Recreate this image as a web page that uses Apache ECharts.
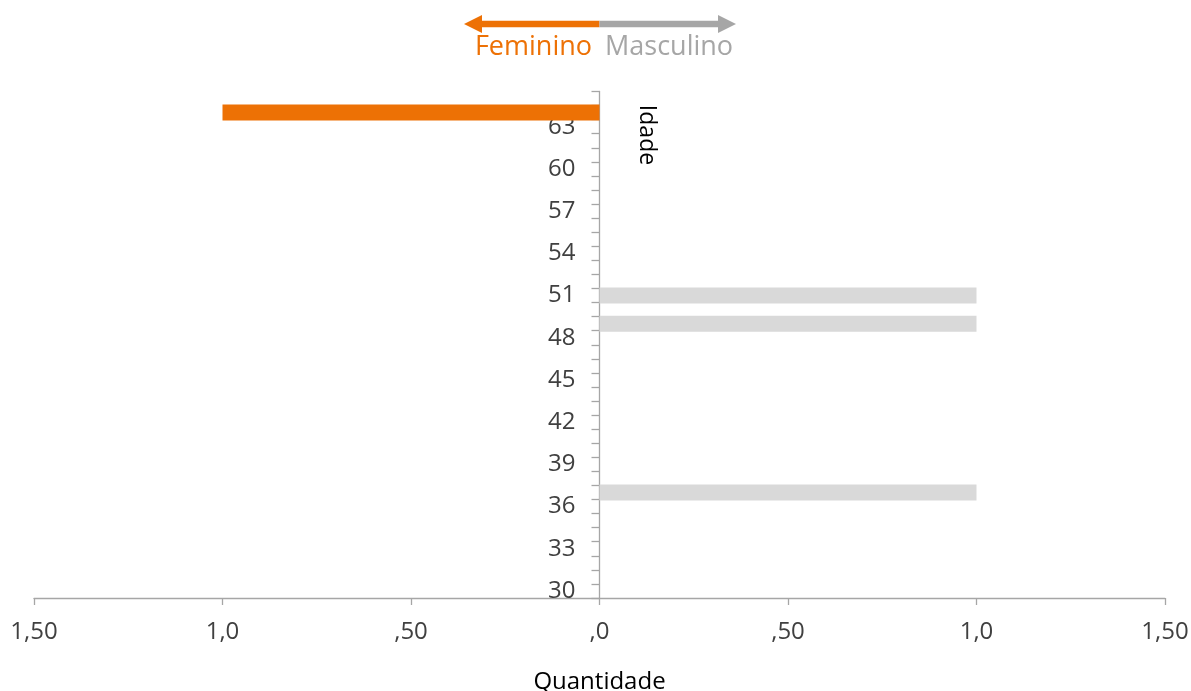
<!DOCTYPE html>
<html>
<head>
<meta charset="utf-8">
<script src="https://cdn.jsdelivr.net/npm/echarts@6/dist/echarts.min.js"></script>
<style>
html,body{margin:0;padding:0;background:#fff;}
#chart{width:1191px;height:691px;}
</style>
</head>
<body>
<div id="chart"></div>
<script>
// Age categories (bottom to top)
var ages = [30,31,32,33,34,35,36,37,38,39,40,41,42,43,44,45,46,47,48,49,50,51,52,53,54,55,56,57,58,59,60,61,62,63,64,65];
// Counts per age
var femaleCounts = [0,0,0,0,0,0,0,0,0,0,0,0,0,0,0,0,0,0,0,0,0,0,0,0,0,0,0,0,0,0,0,0,0,0,1,0];
var maleCounts   = [0,0,0,0,0,0,0,1,0,0,0,0,0,0,0,0,0,0,0,1,0,1,0,0,0,0,0,0,0,0,0,0,0,0,0,0];
// X tick labels (from -1.5 to 1.5 step 0.5)
var xTickLabels = ['1,50','1,0',',50',',0',',50','1,0','1,50'];

var FONT = '"Open Sans", "Noto Sans", sans-serif';
var chart = echarts.init(document.getElementById('chart'), null, {renderer:'canvas'});

var GRID_L = 34, GRID_R = 26;
var zeroOffset = (1191 - GRID_L - GRID_R) / 2;

var option = {
  animation: false,
  backgroundColor: '#ffffff',
  grid: { left: GRID_L, right: GRID_R, top: 91.5, bottom: 93, containLabel: false, outerBoundsMode: 'none' },
  xAxis: {
    type: 'value',
    min: -1.5, max: 1.5, interval: 0.5,
    name: 'Quantidade',
    nameLocation: 'middle',
    nameGap: 72,
    nameTextStyle: { color: '#000', fontSize: 24, fontFamily: FONT },
    axisLine: { show: true, lineStyle: { color: '#A6A6A6', width: 1.3 } },
    axisTick: { show: true, length: 7, lineStyle: { color: '#A6A6A6', width: 1.3 } },
    splitLine: { show: false },
    axisLabel: {
      color: '#404040', fontSize: 24, fontFamily: FONT, margin: 22,
      formatter: function (v, i) { return xTickLabels[i]; }
    }
  },
  yAxis: {
    type: 'category',
    data: ages,
    boundaryGap: true,
    position: 'left',
    offset: -zeroOffset,
    axisLine: { show: true, onZero: false, lineStyle: { color: '#A6A6A6', width: 1.3 } },
    axisTick: { show: true, interval: 0, length: 8, lineStyle: { color: '#A6A6A6', width: 1.3 } },
    axisLabel: { interval: 2, color: '#404040', fontSize: 24, fontFamily: FONT, margin: 24 },
    splitLine: { show: false }
  },
  series: [
    {
      name: 'Feminino', type: 'bar',
      data: femaleCounts.map(function (v) { return -v; }),
      barWidth: 16, barGap: '-100%',
      itemStyle: { color: '#ED7105' }
    },
    {
      name: 'Masculino', type: 'bar',
      data: maleCounts,
      barWidth: 16, barGap: '-100%',
      itemStyle: { color: '#D9D9D9' }
    }
  ],
  graphic: [
    { type: 'line', shape: { x1: 599.5, y1: 24, x2: 478, y2: 24 }, style: { stroke: '#ED7105', lineWidth: 6.5 } },
    { type: 'polygon', shape: { points: [[464,24],[482,15],[482,33]] }, style: { fill: '#ED7105' } },
    { type: 'line', shape: { x1: 599.5, y1: 24, x2: 720, y2: 24 }, style: { stroke: '#A6A6A6', lineWidth: 6.5 } },
    { type: 'polygon', shape: { points: [[736,24],[718,15],[718,33]] }, style: { fill: '#A6A6A6' } },
    { type: 'text', x: 592, y: 47, style: { text: 'Feminino', fill: '#ED7105', font: '27px ' + FONT, textAlign: 'right', textVerticalAlign: 'middle' } },
    { type: 'text', x: 605, y: 47, style: { text: 'Masculino', fill: '#A6A6A6', font: '27px ' + FONT, textAlign: 'left', textVerticalAlign: 'middle' } },
    { type: 'text', x: 647, y: 135, rotation: -Math.PI / 2, style: { text: 'Idade', fill: '#000', font: '23px ' + FONT, textAlign: 'center', textVerticalAlign: 'middle' } }
  ]
};
chart.setOption(option);
</script>
</body>
</html>
